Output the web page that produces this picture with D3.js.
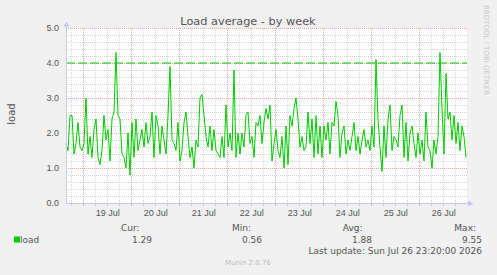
<!DOCTYPE html>
<html>
<head>
<meta charset="utf-8">
<title>Load average - by week</title>
<style>
  body { margin: 0; background: #f0f0f0; }
  svg { display: block; font-family: "DejaVu Sans", sans-serif; }
  text { fill: #555; }
  .axis path, .axis line { display: none; }
  .axis text { font-size: 9px; fill: #555; }
</style>
</head>
<body>
<script src="https://cdn.jsdelivr.net/npm/d3@7"></script>
<script>
// data (hourly samples)
var title = "Load average - by week";
var endTime = new Date(Date.UTC(2026, 6, 26, 23, 20));
var startTime = new Date(endTime.getTime() - 720000 * 1000);
var stepSeconds = 3600;

var load = [
  1.7,1.5,2.5,2.5,1.4,1.7,2.3,1.6,1.5,1.7,3.0,1.4,1.9,1.3,2.1,2.4,1.3,1.1,1.5,2.5,1.8,2.1,1.2,2.4,2.6,4.3,2.5,2.4,1.4,
  1.3,1.0,2.0,0.8,2.3,1.3,2.4,1.5,1.8,2.1,1.6,2.3,1.7,1.9,2.6,1.3,2.5,2.2,1.4,2.2,1.8,1.4,2.5,3.9,1.8,1.7,1.5,2.3,1.2,
  1.5,2.3,2.6,1.9,1.3,1.6,1.0,1.8,1.6,3.0,3.1,2.5,1.9,1.6,2.2,1.5,2.1,1.5,1.4,1.3,1.9,1.3,2.8,1.6,2.0,1.5,3.8,1.3,2.0,
  1.4,2.0,1.6,2.5,2.6,1.7,1.9,1.3,2.3,2.2,2.5,1.7,2.3,2.7,2.4,2.8,1.2,1.7,2.1,1.5,1.3,1.9,1.0,2.2,1.1,2.5,2.2,2.7,3.0,
  2.4,1.6,1.9,1.5,1.6,2.6,1.7,2.4,1.3,2.5,1.4,2.2,1.3,2.2,1.8,2.3,1.4,2.3,2.2,2.9,2.5,1.3,2.0,2.2,1.4,1.8,1.5,1.9,2.3,
  1.5,1.9,1.4,1.8,2.1,1.6,1.8,1.5,2.2,1.6,4.1,2.4,1.6,0.9,2.2,1.3,2.4,2.8,1.5,1.9,1.8,1.6,2.5,2.8,1.3,2.3,1.2,2.0,2.2,
  1.7,1.3,2.0,1.4,1.8,1.2,2.6,1.6,1.5,1.0,1.8,1.4,1.9,4.3,2.7,1.4,3.7,2.4,2.6,1.8,2.5,1.7,2.3,1.5,2.2,1.9,1.3
];

var dayLabels = ["19 Jul", "20 Jul", "21 Jul", "22 Jul", "23 Jul", "24 Jul", "25 Jul", "26 Jul"];
var yTicks = [0, 1, 2, 3, 4, 5];
var warning = 4.0;
var legendHeads = ["Cur:", "Min:", "Avg:", "Max:"];
var legendValues = ["1.29", "0.56", "1.88", "9.55"];
var lastUpdate = "Last update: Sun Jul 26 23:20:00 2026";

var W = 497, H = 275;
var plotL = 66, plotT = 28, plotR = 466, plotB = 203;

var x = d3.scaleUtc().domain([startTime, endTime]).range([plotL, plotR]);
var y = d3.scaleLinear().domain([0, 5]).range([plotB, plotT]);

var svg = d3.select("body").append("svg")
    .attr("width", W)
    .attr("height", H);

svg.append("rect").attr("width", W).attr("height", H).attr("fill", "#f0f0f0");
svg.append("rect")
    .attr("x", plotL).attr("y", plotT)
    .attr("width", plotR - plotL + 1).attr("height", plotB - plotT)
    .attr("fill", "#fff");

// grid
var grid = svg.append("g");
var minorY = d3.range(0, 51, 2).map(function(d) { return d / 10; });
grid.selectAll("line.hy")
    .data(minorY)
  .enter().append("line")
    .attr("x1", plotL).attr("x2", plotR + 1)
    .attr("y1", function(d) { return Math.round(y(d)) + 0.5; })
    .attr("y2", function(d) { return Math.round(y(d)) + 0.5; })
    .attr("stroke", function(d) { return Math.abs(d - Math.round(d)) < 1e-6 ? "#e8a8a8" : "#d6d6d6"; })
    .attr("stroke-dasharray", "1,1");

var hours = d3.utcHour.every(6).range(startTime, endTime);
grid.selectAll("line.vx")
    .data(hours)
  .enter().append("line")
    .attr("x1", function(d) { return Math.round(x(d)) + 0.5; })
    .attr("x2", function(d) { return Math.round(x(d)) + 0.5; })
    .attr("y1", plotT).attr("y2", plotB)
    .attr("stroke", function(d) { return d.getUTCHours() === 0 ? "#e8a8a8" : "#d6d6d6"; })
    .attr("stroke-dasharray", "1,1");

// small ticks under the x axis
grid.selectAll("line.tk")
    .data(hours)
  .enter().append("line")
    .attr("x1", function(d) { return Math.round(x(d)) + 0.5; })
    .attr("x2", function(d) { return Math.round(x(d)) + 0.5; })
    .attr("y1", plotB).attr("y2", plotB + 3)
    .attr("stroke", function(d) { return d.getUTCHours() === 0 ? "#e8a8a8" : "#d0d0d0"; });

// warning rule
svg.append("line")
    .attr("x1", plotL).attr("x2", plotR + 1)
    .attr("y1", y(warning)).attr("y2", y(warning))
    .attr("stroke", "#00cc00")
    .attr("stroke-width", 1.2)
    .attr("stroke-dasharray", "9,3");

// series
var line = d3.line()
    .x(function(d, i) { return x(new Date(startTime.getTime() + i * stepSeconds * 1000)); })
    .y(function(d) { return y(d); });

svg.append("path")
    .datum(load)
    .attr("d", line)
    .attr("fill", "none")
    .attr("stroke", "#00cc00")
    .attr("stroke-width", 1);

// axes frame
var axisColor = "#c3c9f3";
svg.append("line").attr("x1", plotL + 0.5).attr("x2", plotL + 0.5)
    .attr("y1", plotB).attr("y2", 24).attr("stroke", axisColor);
svg.append("line").attr("x1", plotL).attr("x2", 470)
    .attr("y1", plotB + 0.5).attr("y2", plotB + 0.5).attr("stroke", axisColor);
svg.append("path").attr("d", "M63.5,26.5L69.5,26.5L66.5,21.5Z").attr("fill", axisColor);
svg.append("path").attr("d", "M468,200.5L468,206.5L473.5,203.5Z").attr("fill", axisColor);

// axis labels
var noons = dayLabels.map(function(d, i) { return new Date(Date.UTC(2026, 6, 19 + i, 12)); });
svg.append("g")
    .attr("class", "x axis")
    .attr("transform", "translate(0," + plotB + ")")
    .call(d3.axisBottom(x)
        .tickValues(noons)
        .tickSize(0)
        .tickPadding(7)
        .tickFormat(function(d, i) { return dayLabels[i]; }));

svg.append("g")
    .attr("class", "y axis")
    .attr("transform", "translate(" + plotL + ",0)")
    .call(d3.axisLeft(y)
        .tickValues(yTicks)
        .tickSize(0)
        .tickPadding(7)
        .tickFormat(d3.format(".1f")));

svg.append("text")
    .attr("x", 248).attr("y", 24.5)
    .attr("text-anchor", "middle")
    .style("font-size", "11.3px")
    .text(title);

svg.append("text")
    .attr("transform", "translate(15,114) rotate(-90)")
    .attr("text-anchor", "middle")
    .style("font-size", "10px")
    .text("load");

svg.append("text")
    .attr("transform", "translate(484,5) rotate(90)")
    .style("font-size", "7px")
    .style("fill", "#c8c8c8")
    .text("RRDTOOL / TOBI OETIKER");

// legend
var headX = [139.5, 251, 362.5, 476];
var valX = [152, 262, 372, 482];
svg.selectAll("text.head")
    .data(legendHeads)
  .enter().append("text")
    .attr("x", function(d, i) { return headX[i]; })
    .attr("y", 230.5)
    .attr("text-anchor", "end")
    .style("font-size", "9px")
    .text(function(d) { return d; });

svg.selectAll("text.val")
    .data(legendValues)
  .enter().append("text")
    .attr("x", function(d, i) { return valX[i]; })
    .attr("y", 242.5)
    .attr("text-anchor", "end")
    .style("font-size", "9px")
    .text(function(d) { return d; });

svg.append("rect")
    .attr("x", 14).attr("y", 236.5)
    .attr("width", 6).attr("height", 6)
    .attr("fill", "#00cc00");
svg.append("text")
    .attr("x", 20).attr("y", 242.5)
    .style("font-size", "9px")
    .text("load");

svg.append("text")
    .attr("x", 482).attr("y", 253.5)
    .attr("text-anchor", "end")
    .style("font-size", "9px")
    .text(lastUpdate);

svg.append("text")
    .attr("x", 248).attr("y", 265)
    .attr("text-anchor", "middle")
    .style("font-size", "7px")
    .style("fill", "#bbb")
    .text("Munin 2.0.76");
</script>
</body>
</html>
